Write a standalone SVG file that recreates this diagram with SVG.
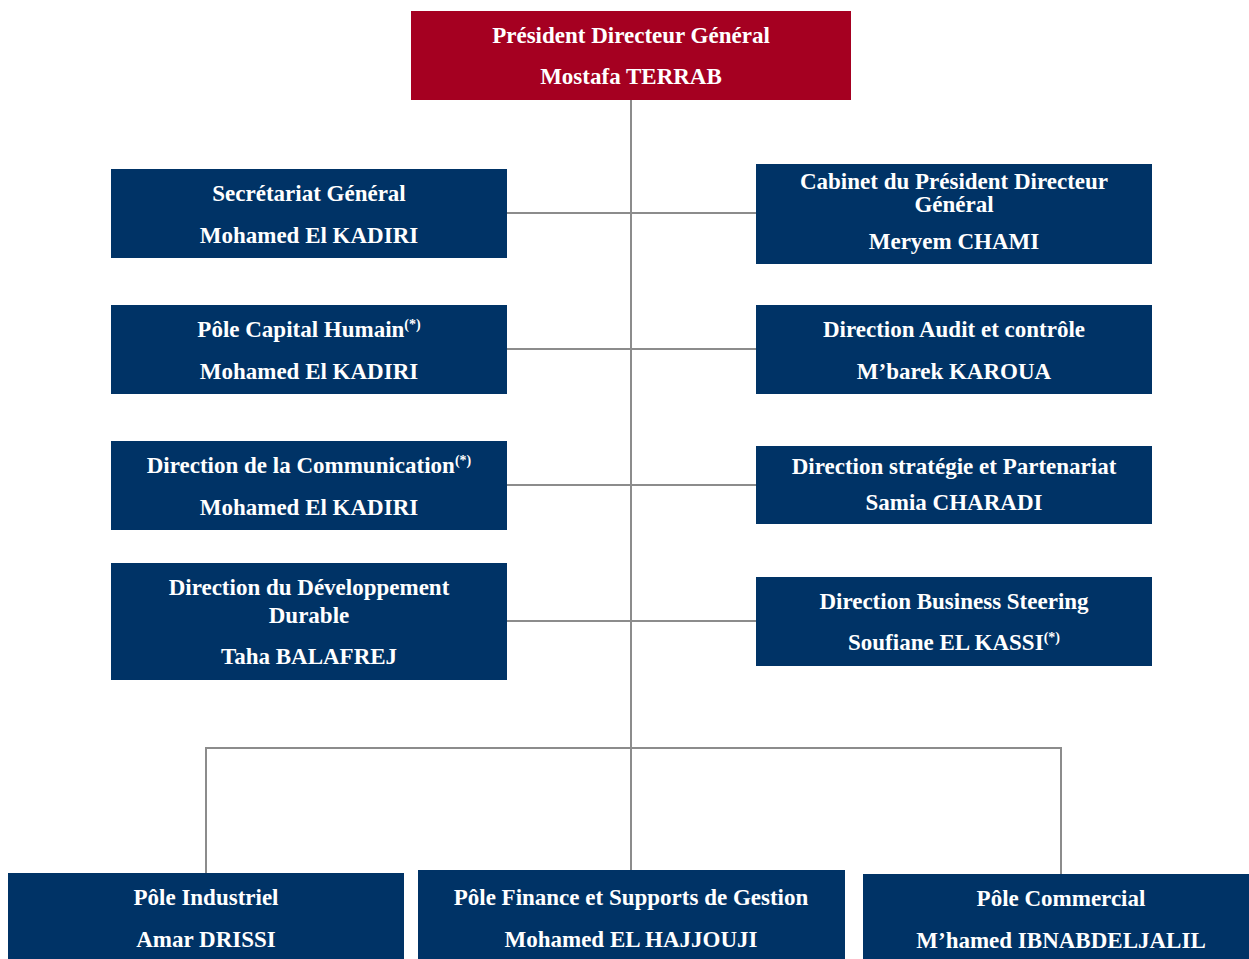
<svg xmlns="http://www.w3.org/2000/svg" width="1249" height="959" viewBox="0 0 1249 959">
<style>
.box{fill:#003366}
.red{fill:#A50021}
text{font-family:"Liberation Serif","Times New Roman",serif;font-weight:bold;font-size:23px;fill:#ffffff;text-anchor:middle}
.sup{font-size:14px}
.ln{stroke:#8c8c8c;stroke-width:2;fill:none}
</style>
<g id="connectors">
<path class="ln" d="M631 100V870"/>
<path class="ln" d="M507 213H756"/>
<path class="ln" d="M507 349H756"/>
<path class="ln" d="M507 485H756"/>
<path class="ln" d="M507 621H756"/>
<path class="ln" d="M206 873V748H1061V874"/>
</g>
<g id="pdg"><rect class="red" x="411" y="11" width="440" height="89"/>
<text x="631" y="43">Président Directeur Général</text><text x="631" y="84">Mostafa TERRAB</text></g>
<g id="sg"><rect class="box" x="111" y="169" width="396" height="89"/>
<text x="309" y="201">Secrétariat Général</text><text x="309" y="243">Mohamed El KADIRI</text></g>
<g id="pch"><rect class="box" x="111" y="305" width="396" height="89"/>
<text x="309" y="337">Pôle Capital Humain<tspan class="sup" dy="-8">(*)</tspan></text><text x="309" y="379">Mohamed El KADIRI</text></g>
<g id="dc"><rect class="box" x="111" y="441" width="396" height="89"/>
<text x="309" y="473">Direction de la Communication<tspan class="sup" dy="-8">(*)</tspan></text><text x="309" y="515">Mohamed El KADIRI</text></g>
<g id="ddd"><rect class="box" x="111" y="563" width="396" height="117"/>
<text x="309" y="595">Direction du Développement</text><text x="309" y="623">Durable</text><text x="309" y="664">Taha BALAFREJ</text></g>
<g id="cab"><rect class="box" x="756" y="164" width="396" height="100"/>
<text x="954" y="189">Cabinet du Président Directeur</text><text x="954" y="212">Général</text><text x="954" y="249">Meryem CHAMI</text></g>
<g id="dac"><rect class="box" x="756" y="305" width="396" height="89"/>
<text x="954" y="337">Direction Audit et contrôle</text><text x="954" y="379">M’barek KAROUA</text></g>
<g id="dsp"><rect class="box" x="756" y="446" width="396" height="78"/>
<text x="954" y="474">Direction stratégie et Partenariat</text><text x="954" y="510">Samia CHARADI</text></g>
<g id="dbs"><rect class="box" x="756" y="577" width="396" height="89"/>
<text x="954" y="609">Direction Business Steering</text><text x="954" y="650">Soufiane EL KASSI<tspan class="sup" dy="-8">(*)</tspan></text></g>
<g id="pi"><rect class="box" x="8" y="873" width="396" height="86"/>
<text x="206" y="905">Pôle Industriel</text><text x="206" y="947">Amar DRISSI</text></g>
<g id="pf"><rect class="box" x="418" y="870" width="427" height="89"/>
<text x="631" y="905">Pôle Finance et Supports de Gestion</text><text x="631" y="947">Mohamed EL HAJJOUJI</text></g>
<g id="pc"><rect class="box" x="863" y="874" width="386" height="85"/>
<text x="1061" y="906">Pôle Commercial</text><text x="1061" y="948">M’hamed IBNABDELJALIL</text></g>
</svg>
